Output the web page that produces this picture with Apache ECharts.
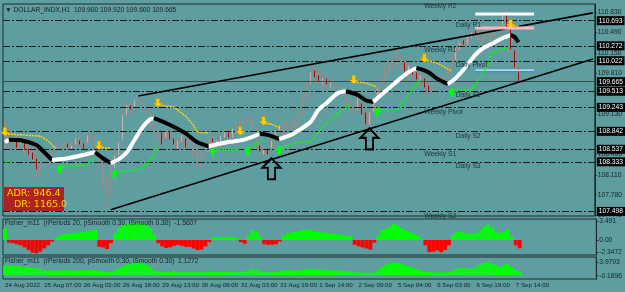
<!DOCTYPE html>
<html><head><meta charset="utf-8">
<script src="https://cdn.jsdelivr.net/npm/echarts@6/dist/echarts.min.js"></script>
<style>html,body{margin:0;padding:0;background:#5f9ea0;}#c{width:625px;height:292px;}</style>
</head><body><div id="c"></div>
<script>
// ---------- DATA ----------
const timeLabels = ['24 Aug 2022','25 Aug 07:00','26 Aug 02:00','26 Aug 18:00','29 Aug 13:00','30 Aug 08:00','31 Aug 03:00','31 Aug 19:00','1 Sep 14:00','2 Sep 09:00','5 Sep 04:00','6 Sep 03:00','6 Sep 19:00','7 Sep 14:00'];
const labelStep = 10;
const slotCount = 151;
// [open, close, low, high]
const candles = [
[108.945,108.695,108.527,109.029],[108.611,108.828,108.527,108.895],[108.828,108.611,108.527,108.862],[108.695,108.560,108.527,108.778],[108.611,108.728,108.560,108.828],
[108.695,108.527,108.444,108.728],[108.560,108.444,108.360,108.695],[108.494,108.360,108.276,108.611],[108.393,108.193,108.026,108.527],[108.109,108.310,107.942,108.444],
[108.310,108.444,108.193,108.527],[108.494,108.393,108.360,108.611],[108.444,108.611,108.393,108.661],[108.560,108.661,108.494,108.728],[108.661,108.527,108.444,108.695],
[108.560,108.661,108.527,108.728],[108.644,108.560,108.494,108.695],[108.527,108.611,108.444,108.661],[108.611,108.728,108.527,108.778],[108.695,108.611,108.560,108.728],
[108.644,108.527,108.494,108.695],[108.644,108.778,108.611,108.828],[108.778,108.862,108.695,108.895],[108.728,108.611,108.527,108.778],[108.611,108.276,108.193,108.695],
[108.276,107.942,107.859,108.360],[107.859,108.026,107.524,108.109],[108.026,108.193,107.775,108.276],[108.226,108.444,108.193,108.527],[108.444,108.661,108.360,108.695],
[108.700,109.112,108.680,109.196],[109.112,109.280,109.062,109.363],[109.280,109.196,109.112,109.313],[109.229,109.363,109.196,109.397],[109.313,109.397,109.229,109.447],
[109.363,109.229,109.163,109.380],[109.229,109.112,109.029,109.280],[109.146,108.895,108.862,109.196],[108.945,108.778,108.695,109.062],[108.695,108.862,108.611,108.945],
[108.828,108.611,108.527,108.862],[108.728,108.862,108.695,108.945],[108.862,108.695,108.611,108.895],[108.728,108.611,108.527,108.862],[108.527,108.695,108.444,108.778],
[108.661,108.778,108.527,108.862],[108.728,108.560,108.444,108.778],[108.560,108.661,108.527,108.728],[108.644,108.494,108.393,108.695],[108.527,108.360,108.276,108.611],
[108.360,108.494,108.226,108.560],[108.494,108.611,108.360,108.695],[108.611,108.695,108.494,108.728],[108.728,108.644,108.560,108.778],[108.611,108.695,108.527,108.728],
[108.661,108.778,108.560,108.828],[108.728,108.862,108.611,108.895],[108.828,108.728,108.695,108.862],[108.728,108.895,108.695,108.945],[108.862,108.995,108.778,109.029],
[108.945,109.029,108.862,109.062],[109.029,108.945,108.862,109.112],[108.995,109.112,108.945,109.163],[109.062,108.895,108.862,109.112],[108.895,108.560,108.527,108.945],
[108.611,108.494,108.444,108.695],[108.444,108.560,108.393,108.611],[108.560,108.444,108.393,108.644],[108.560,108.695,108.527,108.778],[108.695,108.828,108.661,108.895],
[108.828,108.945,108.778,108.995],[108.945,108.778,108.728,108.960],[108.828,108.995,108.778,109.029],[108.945,108.862,108.828,108.995],[108.895,109.029,108.862,109.062],
[108.995,109.163,108.895,109.196],[109.163,109.397,109.112,109.447],[109.397,109.631,109.363,109.698],[109.631,109.832,109.614,109.899],[109.865,109.731,109.698,109.982],
[109.782,109.665,109.614,109.899],[109.614,109.731,109.531,109.832],[109.731,109.614,109.564,109.782],[109.564,109.665,109.531,109.731],[109.665,109.564,109.497,109.698],
[109.614,109.531,109.447,109.665],[109.447,109.564,109.363,109.614],[109.497,109.229,109.196,109.531],[109.196,109.363,109.112,109.447],[109.313,109.146,109.062,109.363],
[109.196,109.397,109.163,109.447],[109.313,109.112,109.029,109.363],[109.163,108.945,108.895,109.229],[108.945,109.163,108.862,109.196],[109.163,109.397,109.112,109.447],
[109.397,109.564,109.363,109.614],[109.531,109.731,109.497,109.782],[109.698,109.865,109.614,109.949],[109.865,109.982,109.782,110.032],[109.999,109.899,109.865,110.116],
[109.949,110.116,109.930,110.200],[110.083,109.949,109.865,110.116],[109.999,109.832,109.782,110.032],[109.832,109.949,109.731,109.999],[109.899,109.782,109.698,109.949],
[109.832,109.698,109.614,109.899],[109.665,109.782,109.564,109.865],[109.731,109.564,109.497,109.782],[109.614,109.497,109.447,109.698],[109.497,109.614,109.414,109.665],
[109.564,109.665,109.480,109.698],[109.665,109.782,109.564,109.832],[109.782,109.698,109.614,109.865],[109.731,109.949,109.700,109.999],[109.899,110.083,109.865,110.116],
[110.032,110.233,109.999,110.283],[110.200,110.333,110.166,110.400],[110.367,110.283,110.233,110.501],[110.283,110.450,110.260,110.534],[110.400,110.501,110.367,110.567],
[110.534,110.450,110.400,110.618],[110.501,110.367,110.333,110.567],[110.367,110.501,110.283,110.534],[110.450,110.567,110.367,110.618],[110.534,110.367,110.283,110.560],
[110.400,110.567,110.380,110.618],[110.534,110.668,110.450,110.701],[110.600,110.800,110.550,110.870],[110.800,110.550,110.500,110.880],[110.550,110.200,110.150,110.600],
[110.200,109.900,109.850,110.250],[109.900,109.665,109.600,109.920]
];
const priceTicks = [110.830,110.490,110.150,109.810,109.470,109.130,108.790,108.450,108.110,107.780,107.440];
const pivotLevels = [110.693,110.272,110.022,109.513,109.243,108.842,108.537,108.333,107.498];
const pivotNames = ['Daily R1','Weekly R1','Daily Pivot','Daily S1','Weekly Pivot','Daily S2','Weekly S1','Daily S3','Weekly S2'];
const weeklyR2 = 111.00;
const lastPrice = 109.665;
const channelLower = [[27,107.53],[150,110.05]];
const channelUpper = [[34,109.43],[150,110.82]];
const maPoints = [[0,108.66],[1,108.70],[4,108.69],[8,108.61],[10,108.49],[12,108.36],[16,108.39],[21,108.46],[23,108.49],[25,108.39],[27,108.31],[29,108.37],[31,108.48],[33,108.69],[35,108.90],[37,109.04],[38,109.06],[42,108.95],[46,108.81],[49,108.66],[52,108.59],[57,108.66],[61,108.70],[65,108.80],[67,108.78],[70,108.71],[73,108.78],[75,108.86],[78,109.00],[80,109.20],[82,109.31],[85,109.48],[87,109.51],[90,109.45],[92,109.36],[94,109.33],[96,109.45],[99,109.62],[101,109.73],[103,109.83],[105,109.90],[108,109.83],[110,109.73],[113,109.63],[115,109.73],[118,109.95],[120,110.12],[122,110.23],[125,110.33],[127,110.40],[129,110.45],[130,110.42],[131,110.33]];
const greenSegs = [
 [[0,108.30],[1,108.34]],
 [[14,108.25],[21,108.28],[23,108.41]],
 [[28,108.16],[34,108.19],[36,108.28],[38,108.45],[39,108.62]],
 [[53,108.53],[60,108.53]],
 [[62,108.55],[64,108.62],[66,108.70]],
 [[70,108.56],[72,108.60],[75,108.66],[78,108.66],[81,108.91],[85,109.15],[88,109.28]],
 [[95,109.20],[100,109.20],[102,109.36],[104,109.55],[106,109.70]],
 [[114,109.53],[119,109.53],[121,109.72],[123,109.90],[124,110.15],[126,110.20],[128,110.23]]
];
const greenArrowFrom = 1;
const yellowSegs = [
 [[0,108.80],[9,108.76],[11,108.68],[13,108.55]],
 [[24,108.57],[27,108.56]],
 [[39,109.28],[43,109.25],[46,109.10],[48,108.95],[49,108.83],[52,108.81]],
 [[60,108.81],[61,108.80]],
 [[66,108.98],[68,108.96],[70,108.90]],
 [[89,109.67],[92,109.65],[95,109.58]],
 [[107,110.03],[110,109.99],[112,109.92],[114,109.85]],
 [[129,110.60],[131,110.60]]
];
const bigArrows = [[68,108.39],[93,108.89]];
const projLevels = [110.80,110.567,109.862,109.835];
const projRange = [120,135];
const fisher1 = [2.2,-0.5,-0.6,-0.8,-1.0,-1.4,-1.9,-2.4,-2.5,-2.2,
-1.6,-1.0,-0.3,0.3,0.8,1.1,1.2,1.2,1.3,1.4,
1.5,1.6,1.8,1.9,-1.3,-1.4,-1.7,-0.6,1.2,2.2,
2.8,3.0,3.1,3.2,3.2,3.1,2.8,2.2,1.0,-0.6,
-1.2,-1.5,-1.4,-1.1,-0.9,-1.1,-1.3,-1.3,-1.6,-1.9,
-1.8,-1.2,-0.4,0.5,0.5,0.5,0.5,0.6,0.5,0.4,
-0.4,-0.7,0.8,1.8,1.6,0.6,-0.8,-0.9,-0.9,-0.8,
-0.3,0.8,1.2,1.4,1.6,1.7,1.9,2.0,1.8,1.6,
1.5,1.4,1.3,1.2,1.1,1.0,0.9,0.8,0.7,-0.9,
-1.2,-1.4,-1.6,-1.8,-0.5,0.8,1.8,2.1,2.5,3.0,
2.8,2.2,1.8,1.5,1.2,0.8,0.2,-1.0,-2.3,-2.2,
-2.0,-2.3,-1.9,-1.0,1.0,1.5,1.6,1.3,1.2,1.2,
1.3,1.8,2.5,2.9,2.4,1.5,1.3,1.5,2.0,0.5,
-1.0,-1.5607];
const fisher2 = [3.0,3.0,2.9,2.8,2.7,2.6,2.5,2.3,2.1,1.8,
1.6,1.5,1.5,1.4,1.5,1.6,1.6,1.5,1.5,1.5,
1.6,1.6,1.6,1.5,1.3,1.1,1.0,1.0,1.6,2.2,
2.8,3.3,3.6,3.8,3.9,3.8,3.3,2.5,1.5,1.2,
1.1,1.0,1.0,1.1,1.0,0.9,0.9,1.0,1.0,0.9,
0.9,1.0,1.1,1.1,1.0,1.0,1.0,1.1,1.0,1.0,
1.0,1.1,1.4,1.9,1.7,1.2,1.0,1.0,0.9,1.0,
1.2,1.5,1.6,1.5,1.4,1.5,1.7,1.9,2.0,1.9,
1.8,1.7,1.6,1.6,1.5,1.4,1.3,1.2,1.1,1.0,
0.9,0.8,0.7,0.7,0.8,1.5,2.5,3.2,3.7,4.0,
3.8,3.4,3.0,2.6,2.2,1.8,1.4,1.1,1.0,0.9,
0.9,0.8,0.9,1.0,1.4,2.0,2.2,2.1,2.0,2.1,
2.5,3.2,3.8,4.0,3.6,3.0,2.6,3.1,3.4,2.5,
1.6,1.1272];
const fisher1Ticks = [3.491,0,-2.3472];
const fisher2Ticks = [3.9793,-0.1896];
const headerText = '\u25BC DOLLAR_INDX,H1  109.900 109.920 109.600 109.665';
const fisher1Text = 'Fisher_m11  (rPeriods 20, pSmooth 0.30, iSmooth 0.30)  -1.5607';
const fisher2Text = 'Fisher_m11  (rPeriods 200, pSmooth 0.30, iSmooth 0.30)  1.1272';
const adrText = 'ADR: 946.4';
const drText = 'DR: 1165.0';

// ---------- STYLE ----------
const FF = 'Liberation Sans';
const FS = 6.7;
const dark = '#15201f';
const frame = '#1e2b2b';
const projColors = ['#ffffff','#ffb6c1','#add8e6','#4a8cc4'];
const projWidths = [3,3,2,1.5];

const chart = echarts.init(document.getElementById('c'), null, {renderer:'canvas'});
const categories = Array.from({length: slotCount}, (_, i) => 'c' + i);
const catLabel = (v, i) => (i % labelStep === 0 && timeLabels[i / labelStep]) ? timeLabels[i / labelStep] : '';

const grids = [
  {left:3, top:4, width:595, height:212},
  {left:3, top:219, width:595, height:36},
  {left:3, top:257, width:595, height:22}
].map(g => Object.assign({show:true, borderColor:frame, borderWidth:1, backgroundColor:'transparent'}, g));

const xAxes = [0,1,2].map(k => ({
  type:'category', gridIndex:k, data:categories, boundaryGap:true,
  axisLine:{show:false}, axisTick:{show:false},
  axisLabel: k === 2 ? {show:true, interval:0, formatter:catLabel, fontSize:6.2, fontFamily:FF, color:dark, align:'left', margin:3} : {show:false},
  splitLine:{show:false}
}));

const yCommon = (k, min, max, ticks, fmt) => ({
  type:'value', gridIndex:k, position:'right', min, max,
  splitLine:{show:false},
  axisLine:{show:true, lineStyle:{color:frame}},
  axisTick:{show:true, length:2, customValues:ticks, lineStyle:{color:frame}},
  axisLabel:{show:true, customValues:ticks, formatter:fmt, fontSize:FS, fontFamily:FF, color:dark, margin:3}
});
const yAxes = [
  yCommon(0, 107.424, 110.969, priceTicks, v => v.toFixed(3)),
  yCommon(1, -2.83, 3.96, fisher1Ticks, v => v === 0 ? '0.00' : String(v)),
  yCommon(2, -1.22, 5.66, fisher2Ticks, v => String(v))
];

const series = [];
const upArrow = 'path://M5,0 L10,5 L7,5 L7,10 L3,10 L3,5 L0,5 Z';
const downArrow = 'path://M3,0 L7,0 L7,5 L10,5 L5,10 L0,5 L3,5 Z';
const hollowUp = 'path://M10,0 L20,10 L14,10 L14,22 L6,22 L6,10 L0,10 Z';

// pivot & bid lines with boxed labels
const boxLabel = v => ({show:true, position:'end', distance:2, formatter:v.toFixed(3), color:'#fff', backgroundColor:'#000', padding:[1,2,1,2], fontSize:FS, fontFamily:FF});
series.push({
  type:'candlestick', xAxisIndex:0, yAxisIndex:0, data:candles, barWidth:2, z:3,
  itemStyle:{color:'#b9b9b9', color0:'#b00000', borderColor:'#8e8e8e', borderColor0:'#8e8e8e', borderWidth:1},
  markLine:{silent:true, symbol:'none', animation:false,
    data: pivotLevels.map(v => ({yAxis:v, lineStyle:{type:[7,2,2,2], color:'#1b1b1b', width:1}, label:boxLabel(v)}))
      .concat([{yAxis:lastPrice, lineStyle:{type:'solid', color:'#3b4b4b', width:1}, label:boxLabel(lastPrice)}])},
  markPoint:{silent:true, animation:false, symbol:hollowUp, symbolSize:[18,21], symbolOffset:[0,10.5],
    itemStyle:{color:'rgba(0,0,0,0)', borderColor:'#000', borderWidth:2}, label:{show:false},
    data: bigArrows.map(c => ({coord:c}))}
});

// pivot names (as markPoint labels on an empty-looking series)
series.push({
  type:'scatter', xAxisIndex:0, yAxisIndex:0, symbol:'circle', symbolSize:0, clip:false, silent:true, z:8,
  itemStyle:{color:'#22383a', opacity:1},
  data: pivotNames.map((n,k) => ({name:n, value:[n.indexOf('Daily') === 0 ? 115 : 107, pivotLevels[k]]}))
    .concat([{name:'Weekly R2', value:[107, weeklyR2]}]),
  label:{show:true, formatter:'{b}', position:'right', distance:0, offset:[0,4.5], fontSize:FS, fontFamily:FF, color:'#1d3133', opacity:1, textBorderWidth:0}
});

// channel lines
[channelLower, channelUpper].forEach(d => series.push({type:'line', xAxisIndex:0, yAxisIndex:0, data:d, symbol:'none', silent:true, z:5, lineStyle:{color:'#000', width:1.6}}));

// projections
projLevels.forEach((v,k) => series.push({type:'line', xAxisIndex:0, yAxisIndex:0, data:[[projRange[0],v],[projRange[1],v]], symbol:'none', silent:true, z:5, lineStyle:{color:projColors[k], width:projWidths[k]}}));

// moving average: white when rising, black when falling
const runs = [];
for (let k = 1; k < maPoints.length; k++) {
  const up = maPoints[k][1] >= maPoints[k-1][1];
  const last = runs[runs.length-1];
  if (last && last.up === up) last.data.push(maPoints[k]);
  else runs.push({up, data:[maPoints[k-1], maPoints[k]]});
}
runs.forEach(r => series.push({type:'line', xAxisIndex:0, yAxisIndex:0, data:r.data, symbol:'none', smooth:0.3, silent:true, z:6, lineStyle:{color:r.up ? '#ffffff' : '#000000', width:4}}));

// green / yellow trailing lines
greenSegs.forEach((d,k) => series.push({type:'line', xAxisIndex:0, yAxisIndex:0, data:d, symbol:'none', silent:true, z:7,
  lineStyle:{color:'#00ff00', width:1.5, type:[2,1]},
  markPoint: k >= greenArrowFrom ? {silent:true, animation:false, symbol:upArrow, symbolSize:[8,9], symbolOffset:[0,2], itemStyle:{color:'#00ff00'}, label:{show:false}, data:[{coord:d[0]}]} : undefined}));
yellowSegs.forEach(d => series.push({type:'line', xAxisIndex:0, yAxisIndex:0, data:d, symbol:'none', silent:true, z:7,
  lineStyle:{color:'#ffd700', width:1.5, type:[2,1]},
  markPoint:{silent:true, animation:false, symbol:downArrow, symbolSize:[9,9], symbolOffset:[0,-2], itemStyle:{color:'#ffcc00', borderColor:'#b8860b', borderWidth:0.5}, label:{show:false}, data:[{coord:d[0]}]}}));

// Fisher histograms
const fisherBar = (arr, k) => ({type:'bar', xAxisIndex:k, yAxisIndex:k, barCategoryGap:'0%', barGap:'0%', silent:true,
  data: arr.map(v => ({value:v, itemStyle:{color: v >= 0 ? '#00ff00' : '#ff0000'}}))});
series.push(fisherBar(fisher1, 1));
series.push(fisherBar(fisher2, 2));

const txt = (left, top, text, extra) => Object.assign({type:'text', left, top, silent:true, z:100,
  style:{text, fill:dark, font:FS + 'px "' + FF + '"'}}, extra || {});

chart.setOption({
  animation:false,
  backgroundColor:'#5f9ea0',
  grid:grids, xAxis:xAxes, yAxis:yAxes, series,
  graphic:[
    txt(5, 7, headerText),
    txt(5, 220, fisher1Text),
    txt(5, 258, fisher2Text),
    {type:'rect', left:4, top:187, shape:{width:60,height:24}, style:{fill:'#b02222'}, silent:true, z:100},
    {type:'text', left:7, top:189, silent:true, z:101, style:{text:adrText, fill:'#ffd800', font:'9.5px "DejaVu Sans"'}},
    {type:'text', left:14, top:200, silent:true, z:101, style:{text:drText, fill:'#ffd800', font:'9.5px "DejaVu Sans"'}}
  ]
});
</script></body></html>
